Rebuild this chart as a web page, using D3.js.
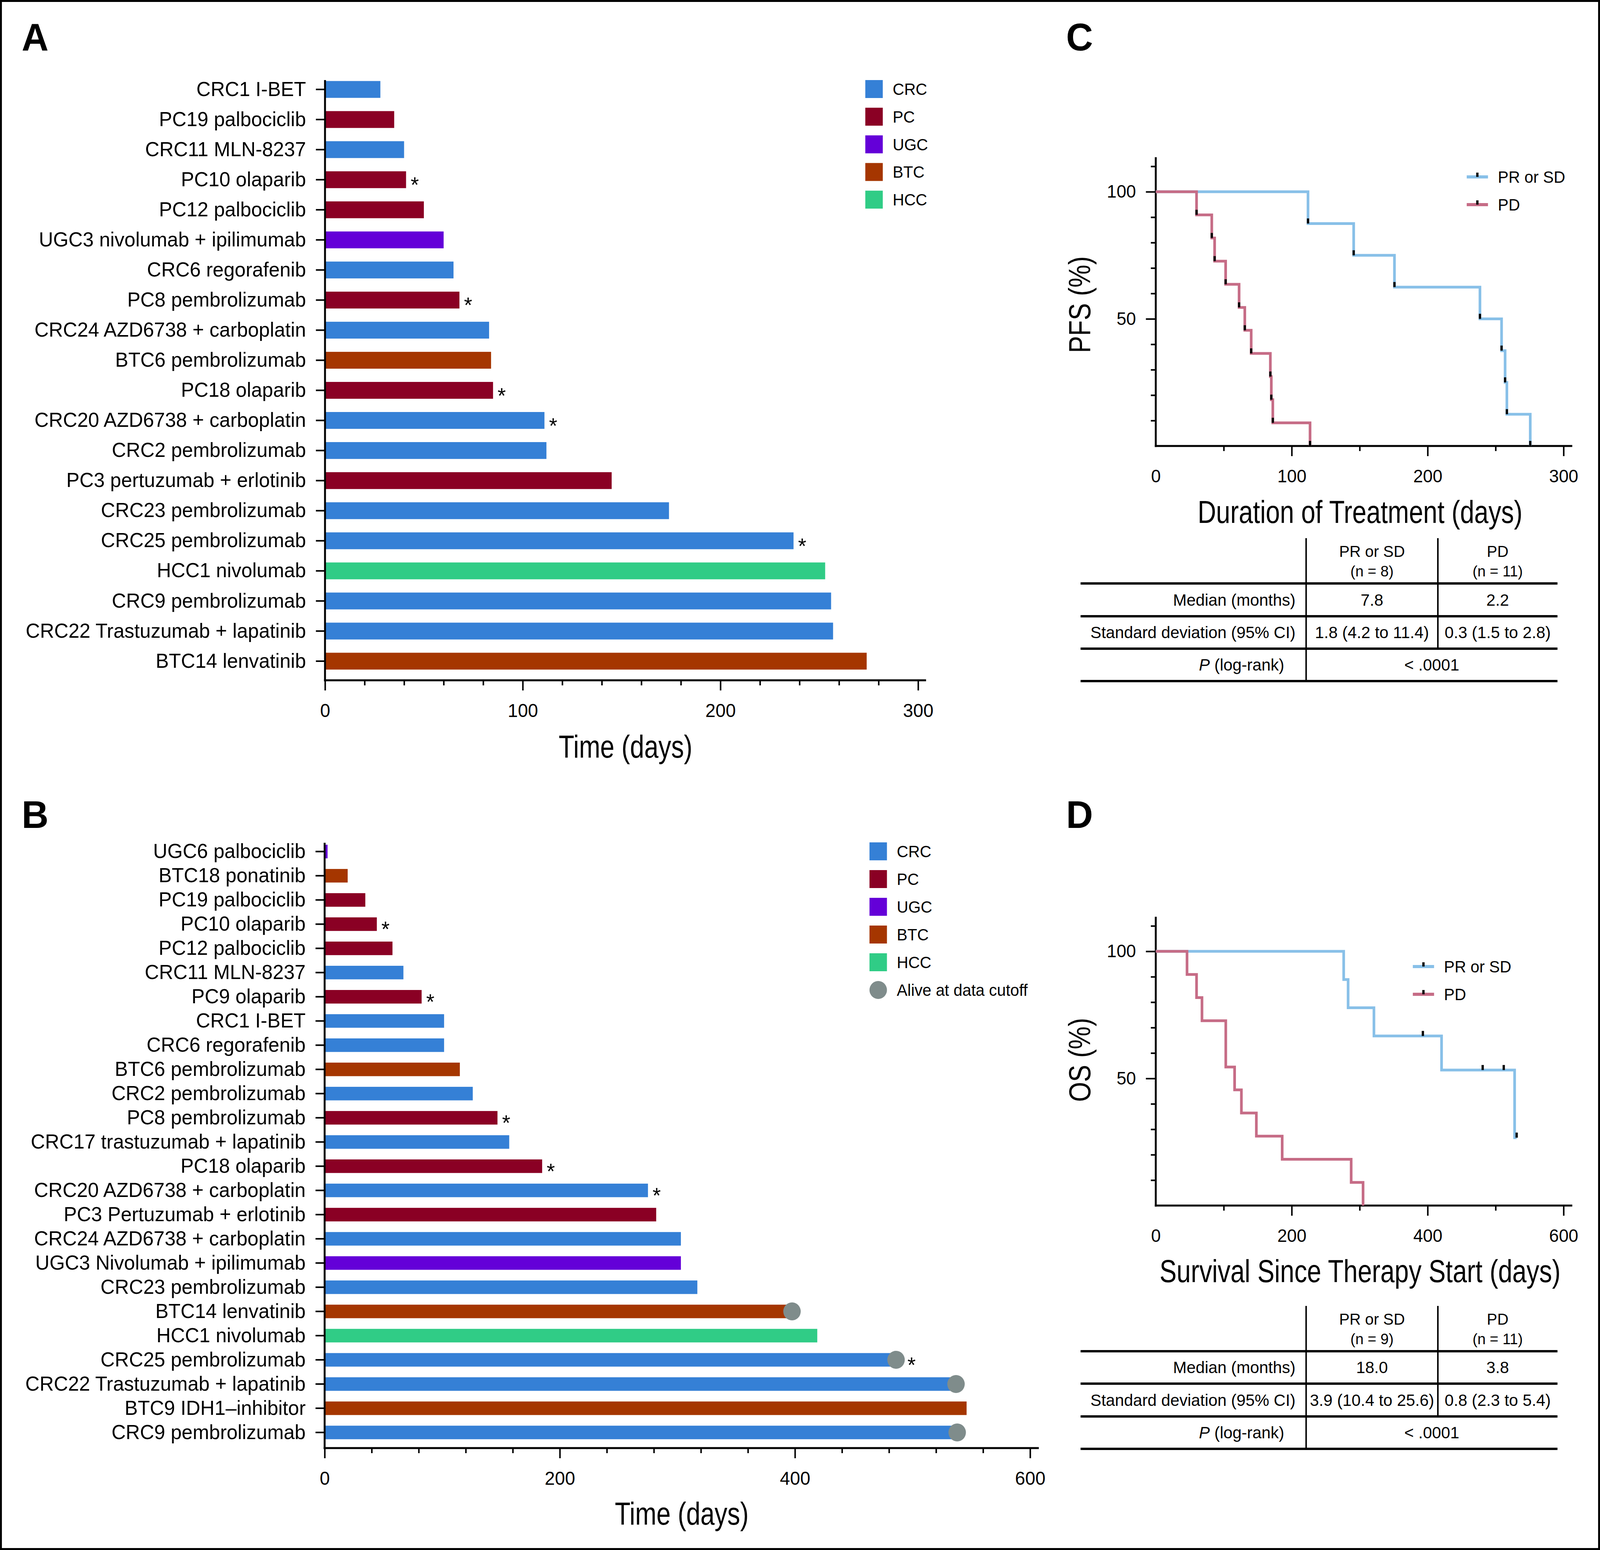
<!DOCTYPE html>
<html lang="en">
<head>
<meta charset="UTF-8">
<title>Treatment duration and survival</title>
<script src="https://d3js.org/d3.v7.min.js"></script>
<style>
  html, body { margin: 0; padding: 0; background: #fff; overflow: hidden; }
  svg { display: block; }
</style>
</head>
<body>
<script>
// ---------- data ----------
const typeNames = ["CRC", "PC", "UGC", "BTC", "HCC"];
const typeColors = ["#3580d6", "#8a0024", "#6400d8", "#a53600", "#30cc86"];

const catsA = ["CRC1 I-BET", "PC19 palbociclib", "CRC11 MLN-8237", "PC10 olaparib", "PC12 palbociclib",
  "UGC3 nivolumab + ipilimumab", "CRC6 regorafenib", "PC8 pembrolizumab", "CRC24 AZD6738 + carboplatin",
  "BTC6 pembrolizumab", "PC18 olaparib", "CRC20 AZD6738 + carboplatin", "CRC2 pembrolizumab",
  "PC3 pertuzumab + erlotinib", "CRC23 pembrolizumab", "CRC25 pembrolizumab", "HCC1 nivolumab",
  "CRC9 pembrolizumab", "CRC22 Trastuzumab + lapatinib", "BTC14 lenvatinib"];
const typesA = ["CRC", "PC", "CRC", "PC", "PC", "UGC", "CRC", "PC", "CRC", "BTC",
  "PC", "CRC", "CRC", "PC", "CRC", "CRC", "HCC", "CRC", "CRC", "BTC"];
const daysA = [28, 35, 40, 41, 50, 60, 65, 68, 83, 84, 85, 111, 112, 145, 174, 237, 253, 256, 257, 274];
const starsA = ["PC10 olaparib", "PC8 pembrolizumab", "PC18 olaparib", "CRC20 AZD6738 + carboplatin", "CRC25 pembrolizumab"];

const catsB = ["UGC6 palbociclib", "BTC18 ponatinib", "PC19 palbociclib", "PC10 olaparib", "PC12 palbociclib",
  "CRC11 MLN-8237", "PC9 olaparib", "CRC1 I-BET", "CRC6 regorafenib", "BTC6 pembrolizumab",
  "CRC2 pembrolizumab", "PC8 pembrolizumab", "CRC17 trastuzumab + lapatinib", "PC18 olaparib",
  "CRC20 AZD6738 + carboplatin", "PC3 Pertuzumab + erlotinib", "CRC24 AZD6738 + carboplatin",
  "UGC3 Nivolumab + ipilimumab", "CRC23 pembrolizumab", "BTC14 lenvatinib", "HCC1 nivolumab",
  "CRC25 pembrolizumab", "CRC22 Trastuzumab + lapatinib", "BTC9 IDH1\u2013inhibitor", "CRC9 pembrolizumab"];
const typesB = ["UGC", "BTC", "PC", "PC", "PC", "CRC", "PC", "CRC", "CRC", "BTC", "CRC", "PC", "CRC",
  "PC", "CRC", "PC", "CRC", "UGC", "CRC", "BTC", "HCC", "CRC", "CRC", "BTC", "CRC"];
const daysB = [2.5, 19.6, 34.6, 44.4, 57.7, 67, 82.5, 101.6, 101.6, 115, 126, 147, 157, 185,
  275, 282, 303, 303, 317, 397.5, 419, 486, 537, 546, 538];
const starsB = ["PC10 olaparib", "PC9 olaparib", "PC8 pembrolizumab", "PC18 olaparib",
  "CRC20 AZD6738 + carboplatin", "CRC25 pembrolizumab"];
const aliveB = ["BTC14 lenvatinib", "CRC25 pembrolizumab", "CRC22 Trastuzumab + lapatinib", "CRC9 pembrolizumab"];

// Kaplan-Meier steps (days, %)
const pfsPrDays = [0, 112, 145.6, 175.6, 238.5, 254.4, 257, 258.3, 275.5];
const pfsPrPct = [100, 87.5, 75, 62.5, 50, 37.5, 25, 12.5, 0];
const pfsPdDays = [0, 30, 41.2, 43.3, 51.4, 61.3, 65.5, 70.2, 84.3, 85, 86.1, 113.5];
const pfsPdPct = [100, 90.9, 81.8, 72.7, 63.6, 54.5, 45.5, 36.4, 27.3, 18.2, 9.1, 0];

const osPrDays = [0, 276.5, 283, 321, 420.5, 528, 531];
const osPrPct = [100, 88.9, 77.8, 66.7, 53.3, 26.7, 26.7];
const osPrCensDays = [393, 481, 512, 531];
const osPrCensPct = [66.7, 53.3, 53.3, 26.7];
const osPdDays = [0, 46, 60, 68, 103, 116, 126, 148, 186, 287.5, 305];
const osPdPct = [100, 90.9, 81.8, 72.7, 54.5, 45.5, 36.4, 27.3, 18.2, 9.1, 0];

const groupNames = ["PR or SD", "PD"];
const groupColors = ["#88c0e8", "#c66c86"];

const rowLabels = ["Median (months)", "Standard deviation (95% CI)"];
const nC = [8, 11];
const medianC = ["7.8", "2.2"];
const sdC = ["1.8 (4.2 to 11.4)", "0.3 (1.5 to 2.8)"];
const nD = [9, 11];
const medianD = ["18.0", "3.8"];
const sdD = ["3.9 (10.4 to 25.6)", "0.8 (2.3 to 5.4)"];
const pValue = "< .0001";

// ---------- drawing ----------
const W = 4214, H = 3969;
const SANS = "'Liberation Sans', Arial, Helvetica, sans-serif";
const NARROW_X = 0.82;   // horizontal squeeze for the condensed axis titles
const color = d3.scaleOrdinal().domain(typeNames).range(typeColors);

// drawing coordinates are 4214 x 3969; the svg is stretched over the whole viewport
const svg = d3.select("body").append("svg")
  .attr("viewBox", `0 0 ${W} ${H}`)
  .attr("preserveAspectRatio", "none")
  .style("width", "100vw").style("height", "100vh")
  .attr("font-family", SANS);

svg.append("rect").attr("width", W).attr("height", H).attr("fill", "#fff");
svg.append("rect").attr("x", 2.5).attr("y", 2.5).attr("width", W - 5).attr("height", H - 5)
  .attr("fill", "none").attr("stroke", "#000").attr("stroke-width", 5);

function styleAxis(g, size) {
  g.attr("font-family", SANS).attr("font-size", size);
  g.selectAll("line").attr("stroke", "#000").attr("stroke-width", 4);
  g.selectAll("text").attr("fill", "#000");
  g.select(".domain").remove();
}

// condensed title: normal sans squeezed horizontally
function narrowTitle(g, txt, cx, cy, size, rotate) {
  const rot = rotate ? " rotate(-90)" : "";
  g.append("text")
    .attr("transform", `translate(${cx},${cy})${rot} scale(${NARROW_X},1)`)
    .attr("text-anchor", "middle").attr("dy", "0.36em")
    .attr("font-size", size).attr("fill", "#000").text(txt);
}

function panelLetter(txt, x, y) {
  svg.append("text").attr("x", x).attr("y", y).text(txt)
    .attr("font-size", 98).attr("font-weight", "bold").attr("fill", "#000");
}

function barPanel(p) {
  const g = svg.append("g");
  const rows = p.cats.map((c, i) => ({ name: c, type: p.types[i], days: p.days[i],
    star: p.stars.includes(c), alive: (p.alive || []).includes(c) }));

  const x = d3.scaleLinear().domain([0, p.xMax]).range([p.x0, p.x1]);
  const y = d3.scaleBand().domain(p.cats).range([p.yTop, p.yBot])
    .paddingInner(0.44).paddingOuter(0.22);
  const mid = d => y(d.name) + y.bandwidth() / 2;

  g.selectAll("rect.bar").data(rows).join("rect").attr("class", "bar")
    .attr("x", x(0)).attr("y", d => y(d.name))
    .attr("width", d => x(d.days) - x(0)).attr("height", y.bandwidth())
    .attr("fill", d => color(d.type));

  g.selectAll("circle.alive").data(rows.filter(d => d.alive)).join("circle").attr("class", "alive")
    .attr("cx", d => x(d.days)).attr("cy", mid).attr("r", 23).attr("fill", "#7f8c8b");

  g.selectAll("text.star").data(rows.filter(d => d.star)).join("text").attr("class", "star")
    .attr("x", d => x(d.days) + (d.alive ? 30 : 12)).attr("y", d => mid(d) + 32)
    .attr("font-size", 56).attr("fill", "#000").text("*");

  // y axis
  const ya = g.append("g").attr("transform", `translate(${p.x0},0)`)
    .call(d3.axisLeft(y).tickSize(24).tickPadding(26));
  styleAxis(ya, p.labelSize);
  g.append("line").attr("x1", p.x0).attr("x2", p.x0).attr("y1", p.axisTop).attr("y2", p.axisY + 2.5)
    .attr("stroke", "#000").attr("stroke-width", 5);

  // x axis
  const xa = g.append("g").attr("transform", `translate(0,${p.axisY})`)
    .call(d3.axisBottom(x).tickValues(p.major).tickSize(26).tickPadding(34).tickFormat(d3.format("d")));
  styleAxis(xa, 48);
  const xm = g.append("g").attr("transform", `translate(0,${p.axisY})`)
    .call(d3.axisBottom(x).tickValues(p.minor).tickSize(13).tickFormat(""));
  styleAxis(xm, 10);
  g.append("line").attr("x1", p.x0 - 2.5).attr("x2", p.xEnd).attr("y1", p.axisY).attr("y2", p.axisY)
    .attr("stroke", "#000").attr("stroke-width", 5);

  narrowTitle(g, "Time (days)", (p.x0 + p.xEnd) / 2, p.titleY, 82, false);

  // legend
  const lg = g.selectAll("g.leg").data(p.legend).join("g").attr("class", "leg")
    .attr("transform", (d, i) => `translate(${p.legX},${p.legY + i * p.legStep})`);
  lg.each(function (d) {
    const s = d3.select(this);
    if (d === "Alive at data cutoff") {
      s.append("circle").attr("cx", 23).attr("cy", 0).attr("r", 23).attr("fill", "#7f8c8b");
    } else {
      s.append("rect").attr("x", 0).attr("y", -23).attr("width", 46).attr("height", 46).attr("fill", color(d));
    }
    s.append("text").attr("x", 72).attr("y", 15).attr("font-size", 42).attr("fill", "#000").text(d);
  });
}

barPanel({
  cats: catsA, types: typesA, days: daysA, stars: starsA,
  xMax: 300, x0: 856, x1: 2418, xEnd: 2439,
  yTop: 190.5, yBot: 1731.5, axisTop: 205, axisY: 1742,
  major: [0, 100, 200, 300], minor: d3.range(20, 300, 20).filter(v => v % 100 !== 0),
  labelSize: 52, titleY: 1910,
  legend: typeNames, legX: 2279, legY: 228, legStep: 70.8
});

barPanel({
  cats: catsB, types: typesB, days: daysB, stars: starsB, alive: aliveB,
  xMax: 600, x0: 855, x1: 2713, xEnd: 2736,
  yTop: 2149.5, yBot: 3699, axisTop: 2158, axisY: 3708,
  major: [0, 200, 400, 600], minor: d3.range(40, 600, 40).filter(v => v % 200 !== 0),
  labelSize: 52, titleY: 3874,
  legend: typeNames.concat(["Alive at data cutoff"]), legX: 2290, legY: 2180, legStep: 71
});

function censorTicks(g, x, y, days, pct) {
  g.selectAll(null).data(days.map((d, i) => [d, pct[i]])).join("rect")
    .attr("x", d => x(d[0]) - 3).attr("y", d => y(d[1]) - 13)
    .attr("width", 6).attr("height", 13).attr("fill", "#000");
}

function kmPanel(p) {
  const g = svg.append("g");
  const yMax = 113.6;
  const x = d3.scaleLinear().domain([0, p.xMax]).range([3044, 4118]);
  const y = d3.scaleLinear().domain([0, yMax]).range([p.y0, p.y0 - yMax * 6.51]);

  // x axis
  const xa = g.append("g").attr("transform", `translate(0,${p.y0})`)
    .call(d3.axisBottom(x).tickValues(p.major).tickSize(26).tickPadding(34).tickFormat(d3.format("d")));
  styleAxis(xa, 46);
  xa.selectAll(".tick").filter(d => d === 0).select("line").remove();
  const xm = g.append("g").attr("transform", `translate(0,${p.y0})`)
    .call(d3.axisBottom(x).tickValues(p.minor).tickSize(13).tickFormat(""));
  styleAxis(xm, 10);
  g.append("line").attr("x1", 3044 - 2.5).attr("x2", 4141).attr("y1", p.y0).attr("y2", p.y0)
    .attr("stroke", "#000").attr("stroke-width", 5);

  // y axis
  const ya = g.append("g").attr("transform", "translate(3044,0)")
    .call(d3.axisLeft(y).tickValues([50, 100]).tickSize(26).tickPadding(26));
  styleAxis(ya, 46);
  const ym = g.append("g").attr("transform", "translate(3044,0)")
    .call(d3.axisLeft(y).tickValues([10, 20, 30, 40, 60, 70, 80, 90, 110]).tickSize(13).tickFormat(""));
  styleAxis(ym, 10);
  g.append("line").attr("x1", 3044).attr("x2", 3044).attr("y1", y(yMax)).attr("y2", p.y0 + 2.5)
    .attr("stroke", "#000").attr("stroke-width", 5);

  // curves
  const line = d3.line().curve(d3.curveStepAfter).x(d => x(d[0])).y(d => y(d[1]));
  p.curves.forEach((c, i) => {
    g.append("path").datum(c.days.map((d, j) => [d, c.pct[j]]))
      .attr("d", line).attr("fill", "none")
      .attr("stroke", groupColors[i]).attr("stroke-width", 7);
  });
  p.curves.forEach(c => censorTicks(g, x, y, c.censDays, c.censPct));

  // legend
  groupNames.forEach((name, i) => {
    const ly = p.legY + i * 71;
    g.append("line").attr("x1", p.legX).attr("x2", p.legX + 56).attr("y1", ly).attr("y2", ly)
      .attr("stroke", groupColors[i]).attr("stroke-width", 8);
    g.append("rect").attr("x", p.legX + 25).attr("y", ly - 11).attr("width", 6).attr("height", 11).attr("fill", "#000");
    g.append("text").attr("x", p.legX + 82).attr("y", ly + 15).attr("font-size", 42)
      .attr("fill", "#000").text(name);
  });

  narrowTitle(g, p.yTitle, 2843, p.yTitleY, 80, true);
  narrowTitle(g, p.xTitle, 3582, p.xTitleY, 82, false);
}

kmPanel({
  xMax: 300, y0: 1142, major: [0, 100, 200, 300], minor: [50, 150, 250],
  curves: [
    { days: pfsPrDays, pct: pfsPrPct, censDays: pfsPrDays.slice(1), censPct: pfsPrPct.slice(1) },
    { days: pfsPdDays, pct: pfsPdPct, censDays: pfsPdDays.slice(1), censPct: pfsPdPct.slice(1) }
  ],
  legX: 3863, legY: 453,
  yTitle: "PFS (%)", yTitleY: 780, xTitle: "Duration of Treatment (days)", xTitleY: 1309
});

kmPanel({
  xMax: 600, y0: 3087, major: [0, 200, 400, 600], minor: [100, 300, 500],
  curves: [
    { days: osPrDays, pct: osPrPct, censDays: osPrCensDays, censPct: osPrCensPct },
    { days: osPdDays, pct: osPdPct, censDays: [], censPct: [] }
  ],
  legX: 3721, legY: 2475,
  yTitle: "OS (%)", yTitleY: 2714, xTitle: "Survival Since Therapy Start (days)", xTitleY: 3253
});

function statTable(p) {
  const g = svg.append("g").attr("fill", "#000");
  const xL = 2846, xR = 4102, xV1 = 3440, xV2 = 3787, labelX = 3412;
  const colX = [(xV1 + xV2) / 2, (xV2 + xR) / 2];

  p.hLines.forEach(yy => g.append("line").attr("x1", xL).attr("x2", xR).attr("y1", yy).attr("y2", yy)
    .attr("stroke", "#000").attr("stroke-width", 6));
  g.append("line").attr("x1", xV1).attr("x2", xV1).attr("y1", p.top).attr("y2", p.hLines[3])
    .attr("stroke", "#000").attr("stroke-width", 4);
  g.append("line").attr("x1", xV2).attr("x2", xV2).attr("y1", p.top).attr("y2", p.hLines[2])
    .attr("stroke", "#000").attr("stroke-width", 4);

  groupNames.forEach((name, i) => {
    g.append("text").attr("x", colX[i]).attr("y", p.headY[0] + 14).attr("text-anchor", "middle")
      .attr("font-size", 41).text(name);
    g.append("text").attr("x", colX[i]).attr("y", p.headY[1] + 14).attr("text-anchor", "middle")
      .attr("font-size", 39).text(`(n = ${p.n[i]})`);
  });

  const rowVals = [p.median, p.sd];
  rowLabels.forEach((lab, r) => {
    const by = p.rowY[r] + 15;
    g.append("text").attr("x", labelX).attr("y", by).attr("text-anchor", "end").attr("font-size", 43).text(lab);
    rowVals[r].forEach((v, i) => g.append("text").attr("x", colX[i]).attr("y", by)
      .attr("text-anchor", "middle").attr("font-size", 43).text(v));
  });
  const pl = g.append("text").attr("x", 3270).attr("y", p.rowY[2] + 15).attr("text-anchor", "middle").attr("font-size", 43);
  pl.append("tspan").attr("font-style", "italic").text("P");
  pl.append("tspan").text(" (log-rank)");
  g.append("text").attr("x", (xV1 + xR) / 2).attr("y", p.rowY[2] + 15).attr("text-anchor", "middle")
    .attr("font-size", 43).text(pValue);
}

statTable({ top: 1378, headY: [1412, 1462], hLines: [1494, 1578, 1661, 1744],
  rowY: [1536, 1619, 1702], n: nC, median: medianC, sd: sdC });
statTable({ top: 3344, headY: [3378, 3428], hLines: [3460, 3543, 3627, 3710],
  rowY: [3501, 3585, 3668], n: nD, median: medianD, sd: sdD });

panelLetter("A", 57, 129);
panelLetter("B", 57, 2120);
panelLetter("C", 2808, 129);
panelLetter("D", 2808, 2120);
</script>
</body>
</html>
